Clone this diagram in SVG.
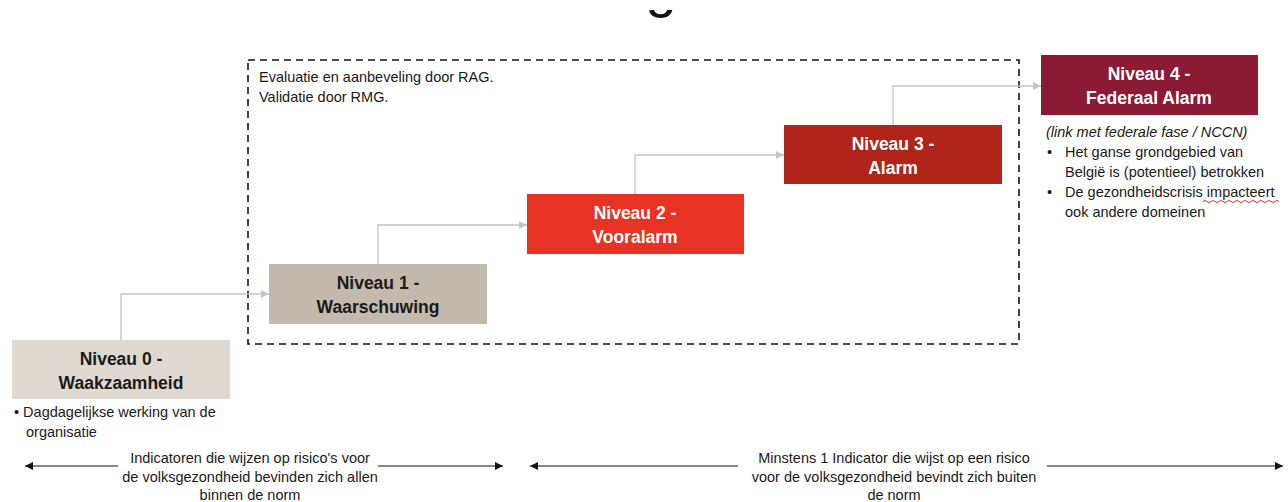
<svg xmlns="http://www.w3.org/2000/svg" width="1288" height="502" viewBox="0 0 1288 502">
  <style>
    .lvl { font-family: "Liberation Sans", Arial, sans-serif; font-size: 17.5px; font-weight: bold; text-anchor: middle; }
    .dark { fill: #1a1a1a; }
    .light { fill: #ffffff; }
    .note { font-family: "Liberation Sans", Arial, sans-serif; font-size: 14.5px; fill: #1a1a1a; }
    .mid { text-anchor: middle; }
    .link { fill: none; stroke: #c4c4c4; stroke-width: 1.3; marker-end: url(#grayHead); }
    .span { fill: none; stroke: #111111; stroke-width: 1.2; }
  </style>
  <defs>
    <marker id="grayHead" viewBox="0 0 10 10" refX="10" refY="5" markerWidth="8" markerHeight="8" markerUnits="userSpaceOnUse" orient="auto">
      <path d="M0,0 L10,5 L0,10 Z" fill="#c4c4c4"/>
    </marker>
    <marker id="blackHead" viewBox="0 0 10 10" refX="10" refY="5" markerWidth="8" markerHeight="8" markerUnits="userSpaceOnUse" orient="auto-start-reverse">
      <path d="M0,0 L10,5 L0,10 Z" fill="#111111"/>
    </marker>
    <clipPath id="titleClip">
      <rect x="600" y="10" width="120" height="20"/>
    </clipPath>
  </defs>

  <!-- title, only its lowest part lies inside the page -->
  <text x="661" y="6" font-family="Liberation Sans, Arial, sans-serif" font-size="56" text-anchor="middle" fill="#111" clip-path="url(#titleClip)">g</text>

  <!-- evaluation area -->
  <g id="evaluation-zone">
    <rect x="248" y="60" width="771" height="284" fill="none" stroke="#111" stroke-width="1.6" stroke-dasharray="7 5"/>
    <text class="note" x="259" y="82">Evaluatie en aanbeveling door RAG.</text>
    <text class="note" x="259" y="102">Validatie door RMG.</text>
  </g>

  <!-- connectors -->
  <g id="connectors">
    <path class="link" d="M121,340 V294 H269"/>
    <path class="link" d="M378,264 V225 H527"/>
    <path class="link" d="M635,194 V155 H784"/>
    <path class="link" d="M893,125 V86 H1041"/>
    <line class="span" x1="25" y1="466" x2="118" y2="466" marker-start="url(#blackHead)"/>
    <line class="span" x1="378" y1="466" x2="503" y2="466" marker-end="url(#blackHead)"/>
    <line class="span" x1="530" y1="466" x2="738" y2="466" marker-start="url(#blackHead)"/>
    <line class="span" x1="1047" y1="466" x2="1283" y2="466" marker-end="url(#blackHead)"/>
  </g>

  <g id="niveau-0">
    <rect x="12" y="340" width="218" height="59" fill="#e0d9d1"/>
    <text class="lvl dark" x="121" y="365">Niveau 0 -</text>
    <text class="lvl dark" x="121" y="389">Waakzaamheid</text>
    <text class="note" x="14" y="417">• Dagdagelijkse werking van de</text>
    <text class="note" x="26" y="437">organisatie</text>
  </g>

  <g id="niveau-1">
    <rect x="269" y="264" width="218" height="60" fill="#c4b9ad"/>
    <text class="lvl dark" x="378" y="289">Niveau 1 -</text>
    <text class="lvl dark" x="378" y="313">Waarschuwing</text>
  </g>

  <g id="niveau-2">
    <rect x="527" y="194" width="217" height="60" fill="#e63323"/>
    <text class="lvl light" x="635" y="219">Niveau 2 -</text>
    <text class="lvl light" x="635" y="243">Vooralarm</text>
  </g>

  <g id="niveau-3">
    <rect x="784" y="125" width="218" height="59" fill="#b0241a"/>
    <text class="lvl light" x="893" y="150">Niveau 3 -</text>
    <text class="lvl light" x="893" y="174">Alarm</text>
  </g>

  <g id="niveau-4">
    <rect x="1041" y="55" width="217" height="60" fill="#8b1a35"/>
    <text class="lvl light" x="1149" y="80">Niveau 4 -</text>
    <text class="lvl light" x="1149" y="104">Federaal Alarm</text>
    <text class="note" x="1046" y="137" font-style="italic">(link met federale fase / NCCN)</text>
    <text class="note" x="1047" y="157">•</text>
    <text class="note" x="1065" y="157">Het ganse grondgebied van</text>
    <text class="note" x="1065" y="177">België is (potentieel) betrokken</text>
    <text class="note" x="1047" y="197">•</text>
    <text class="note" x="1065" y="197">De gezondheidscrisis impacteert</text>
    <path d="M1203,201.5 q2,-2 4,0 t4,0 t4,0 t4,0 t4,0 t4,0 t4,0 t4,0 t4,0 t4,0 t4,0 t4,0 t4,0 t4,0 t4,0 t4,0 t4,0 t4,0 t4,0" fill="none" stroke="#e03030" stroke-width="1"/>
    <text class="note" x="1065" y="217">ook andere domeinen</text>
  </g>

  <g id="norm-binnen">
    <text class="note mid" x="250" y="463">Indicatoren die wijzen op risico's voor</text>
    <text class="note mid" x="250" y="482">de volksgezondheid bevinden zich allen</text>
    <text class="note mid" x="250" y="500">binnen de norm</text>
  </g>

  <g id="norm-buiten">
    <text class="note mid" x="894" y="463">Minstens 1 Indicator die wijst op een risico</text>
    <text class="note mid" x="894" y="482">voor de volksgezondheid bevindt zich buiten</text>
    <text class="note mid" x="894" y="500">de norm</text>
  </g>
</svg>
